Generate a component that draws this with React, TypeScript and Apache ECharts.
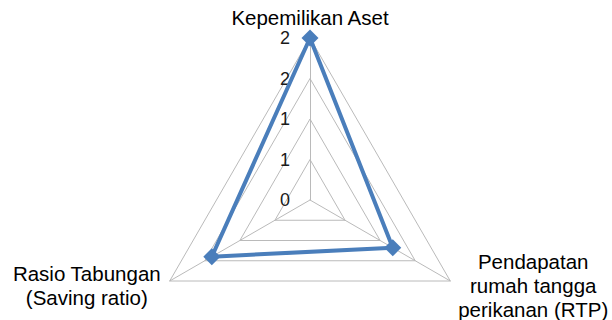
import React, { useEffect, useRef } from "react";
import * as echarts from "echarts";

const indicatorNames = [
  "Kepemilikan Aset",
  "Rasio Tabungan\n(Saving ratio)",
  "Pendapatan\nrumah tangga\nperikanan (RTP)",
];
const values = [2, 1.4, 1.18];
const axisMax = 2;

export default function App() {
  const ref = useRef<HTMLDivElement>(null);
  useEffect(() => {
    const chart = echarts.init(ref.current!, null, { renderer: "svg" });
    const font = "Liberation Sans";
    chart.setOption({
      animation: false,
      backgroundColor: "#ffffff",
      radar: {
        center: [310, 200],
        radius: 162,
        startAngle: 90,
        shape: "polygon",
        splitNumber: 4,
        nameGap: 8,
        axisName: {
          color: "#000000",
          fontFamily: font,
          fontSize: 20.5,
          lineHeight: 24,
          formatter: (name: string) =>
            name.indexOf("\n") >= 0
              ? name
                  .split("\n")
                  .map((l) => "{c|" + l + "}")
                  .join("\n")
              : name,
          rich: {
            c: {
              width: 152,
              align: "center",
              fontFamily: font,
              fontSize: 20.5,
              lineHeight: 24,
              color: "#000000",
            },
          },
        },
        axisLine: { lineStyle: { color: "#bababa", width: 1 } },
        splitLine: { lineStyle: { color: "#bababa", width: 1 } },
        splitArea: { show: false },
        axisTick: { show: false },
        axisLabel: {
          show: true,
          color: "#1a1a1a",
          fontFamily: font,
          fontSize: 18,
          margin: 20,
          formatter: (v: number) => String(Math.round(v)),
        },
        indicator: indicatorNames.map((n, i) =>
          i === 0
            ? { name: n, min: 0, max: axisMax }
            : { name: n, min: 0, max: axisMax, axisLabel: { show: false } }
        ),
      },
      series: [
        {
          type: "radar",
          symbol: "diamond",
          symbolSize: 17,
          lineStyle: { color: "#4a7ebb", width: 4 },
          itemStyle: { color: "#4a7ebb" },
          data: [{ value: values }],
        },
      ],
    });
    return () => chart.dispose();
  }, []);
  return (
    <div
      ref={ref}
      style={{ position: "absolute", left: 0, top: 0, width: 612, height: 320 }}
    />
  );
}
